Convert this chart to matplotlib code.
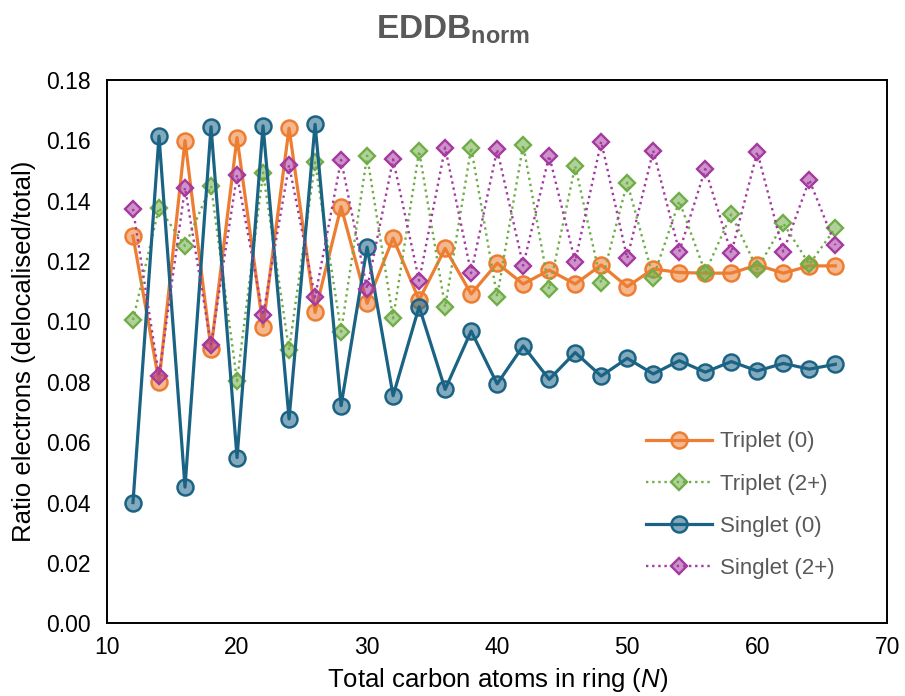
import matplotlib
matplotlib.use("Agg")
import matplotlib.pyplot as plt
from matplotlib.colors import to_rgba

# Ring sizes (total carbon atoms N)
n_atoms = list(range(12, 68, 2))

triplet_0 = [0.1283, 0.0800, 0.1599, 0.0908, 0.1609, 0.0983, 0.1640, 0.1030,
             0.1380, 0.1060, 0.1276, 0.1071, 0.1242, 0.1091, 0.1193, 0.1124,
             0.1170, 0.1124, 0.1187, 0.1115, 0.1174, 0.1162, 0.1160, 0.1160,
             0.1187, 0.1160, 0.1184, 0.1184]
triplet_2p = [0.1005, 0.1377, 0.1250, 0.1449, 0.0803, 0.1493, 0.0905, 0.1527,
              0.0966, 0.1549, 0.1010, 0.1565, 0.1047, 0.1576, 0.1082, 0.1585,
              0.1107, 0.1515, 0.1128, 0.1460, 0.1145, 0.1399, 0.1162, 0.1355,
              0.1173, 0.1325, 0.1189, 0.1309]
singlet_0 = [0.0400, 0.1614, 0.0451, 0.1645, 0.0549, 0.1648, 0.0677, 0.1653,
             0.0721, 0.1246, 0.0754, 0.1049, 0.0775, 0.0968, 0.0793, 0.0919,
             0.0808, 0.0897, 0.0819, 0.0878, 0.0826, 0.0870, 0.0832, 0.0867,
             0.0836, 0.0861, 0.0842, 0.0858]
singlet_2p = [0.1373, 0.0820, 0.1443, 0.0922, 0.1485, 0.1021, 0.1518, 0.1080,
              0.1535, 0.1108, 0.1537, 0.1135, 0.1576, 0.1160, 0.1570, 0.1185,
              0.1549, 0.1198, 0.1596, 0.1209, 0.1566, 0.1231, 0.1505, 0.1226,
              0.1562, 0.1231, 0.1469, 0.1253]

series_labels = ["Triplet (0)", "Triplet (2+)", "Singlet (0)", "Singlet (2+)"]
x_ticks = [10, 20, 30, 40, 50, 60, 70]
y_ticks = [0.00, 0.02, 0.04, 0.06, 0.08, 0.10, 0.12, 0.14, 0.16, 0.18]

plt.rcParams["font.family"] = ["Liberation Sans", "DejaVu Sans"]
plt.rcParams["mathtext.fontset"] = "custom"
plt.rcParams["mathtext.bf"] = "Liberation Sans:bold"
plt.rcParams["mathtext.it"] = "Liberation Sans:italic"
plt.rcParams["mathtext.rm"] = "Liberation Sans"

fig = plt.figure(figsize=(9.05, 6.96), dpi=100)
ax = fig.add_axes([0.1182, 0.1045, 0.8623, 0.7806])

orange = "#ED7D31"
green = "#70AD47"
blue = "#1B6385"
purple = "#A4399F"

styles = [
    dict(color=orange, ls="-", lw=2.3, marker="o", ms=11.5, mew=1.8,
         mfc=to_rgba(orange, 0.55)),
    dict(color=green, ls=(0, (1, 1.6)), lw=1.7, marker="D", ms=8.3, mew=1.7,
         mfc=to_rgba(green, 0.55)),
    dict(color=blue, ls="-", lw=2.3, marker="o", ms=11.5, mew=1.8,
         mfc=to_rgba(blue, 0.55)),
    dict(color=purple, ls=(0, (1, 1.6)), lw=1.7, marker="D", ms=8.3, mew=1.7,
         mfc=to_rgba(purple, 0.55)),
]

for vals, lab, st in zip([triplet_0, triplet_2p, singlet_0, singlet_2p],
                         series_labels, styles):
    ax.plot(n_atoms, vals, label=lab, mec=st["color"], **st)

ax.set_xlim(10, 70)
ax.set_ylim(0, 0.18)
ax.set_xticks(x_ticks)
ax.set_yticks(y_ticks)
ax.set_yticklabels([f"{v:.2f}" for v in y_ticks])
ax.tick_params(axis="both", length=0, labelsize=16.5, colors="#000000")
ax.tick_params(axis="y", pad=12)
ax.tick_params(axis="x", pad=9)
for sp in ax.spines.values():
    sp.set_linewidth(1.4)
    sp.set_color("#000000")

ax.set_xlabel(r"Total carbon atoms in ring ($\mathit{N}$)", fontsize=18.5, labelpad=5)
ax.set_ylabel("Ratio electrons (delocalised/total)", fontsize=18.5, labelpad=7)

fig.text(0.5, 0.957, r"$\mathbf{EDDB}_{\mathbf{norm}}$", ha="center", va="center",
         fontsize=24, color="#595959")

leg = ax.legend(loc="lower right", bbox_to_anchor=(0.958, 0.045), frameon=False,
                fontsize=16, handlelength=3.0, labelspacing=0.95, handletextpad=0.35)
for t in leg.get_texts():
    t.set_color("#595959")

fig.savefig("out.png", dpi=100)
